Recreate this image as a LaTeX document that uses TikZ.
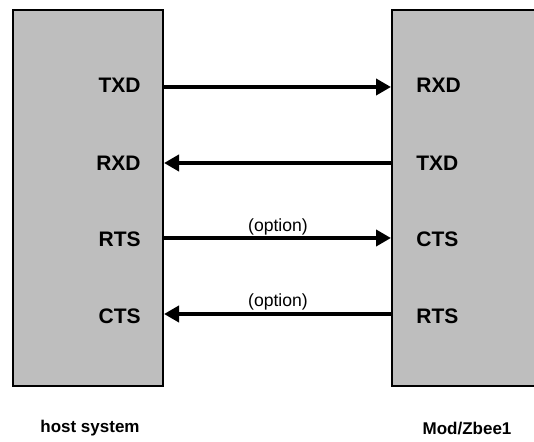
\documentclass[tikz,border=0pt]{standalone}
\usepackage{fontspec}
\setmainfont{Liberation Sans}
\usetikzlibrary{arrows.meta}

\definecolor{unitgray}{HTML}{BEBEBE}

\begin{document}
\begin{tikzpicture}[x=0.5pt,y=-0.5pt,
  unit/.style={draw=black,fill=unitgray,line width=1pt,inner sep=0pt,minimum height=188pt},
  sig/.style={line width=2pt,-{Triangle[length=7.5pt,width=8pt]}},
  pinname/.style={font=\bfseries\fontsize{10.5}{12}\selectfont,inner sep=0pt},
  optnote/.style={font=\fontsize{8.8}{10}\selectfont,inner sep=0pt,anchor=south},
  caption/.style={font=\bfseries\fontsize{8.5}{10}\selectfont,inner sep=0pt}]
\useasboundingbox (0,0) rectangle (534,442);
\clip (0,0) rectangle (534,442);
% the two units
\node[unit,minimum width=75pt] (host) at (88,198) {};
\node[unit,minimum width=80pt] (mod) at (472,198) {};
% rows
\coordinate (r1) at (0,87);
\coordinate (r2) at (0,163);
\coordinate (r3) at (0,238);
\coordinate (r4) at (0,314);
% host side pins
\node[pinname,anchor=east] (hTXD) at (141,85) {TXD};
\node[pinname,anchor=east] (hRXD) at (141,163) {RXD};
\node[pinname,anchor=east] (hRTS) at (141,239) {RTS};
\node[pinname,anchor=east] (hCTS) at (141,316) {CTS};
% module side pins
\node[pinname,anchor=west] (mRXD) at (416,85) {RXD};
\node[pinname,anchor=west] (mTXD) at (416,163) {TXD};
\node[pinname,anchor=west] (mCTS) at (416,239) {CTS};
\node[pinname,anchor=west] (mRTS) at (416,316) {RTS};
% signal lines
\draw[sig] (host.east |- r1) -- (mod.west |- r1);
\draw[sig] (mod.west |- r2) -- (host.east |- r2);
\draw[sig] (host.east |- r3) -- (mod.west |- r3);
\draw[sig] (mod.west |- r4) -- (host.east |- r4);
\node[optnote] (opt1) at (278,235.5) {(option)};
\node[optnote] (opt2) at (278,311) {(option)};
% captions
\node[caption] (capHost) at (90,428.5) {host system};
\node[caption] (capMod) at (467,428.5) {Mod/Zbee1};
\end{tikzpicture}
\end{document}
